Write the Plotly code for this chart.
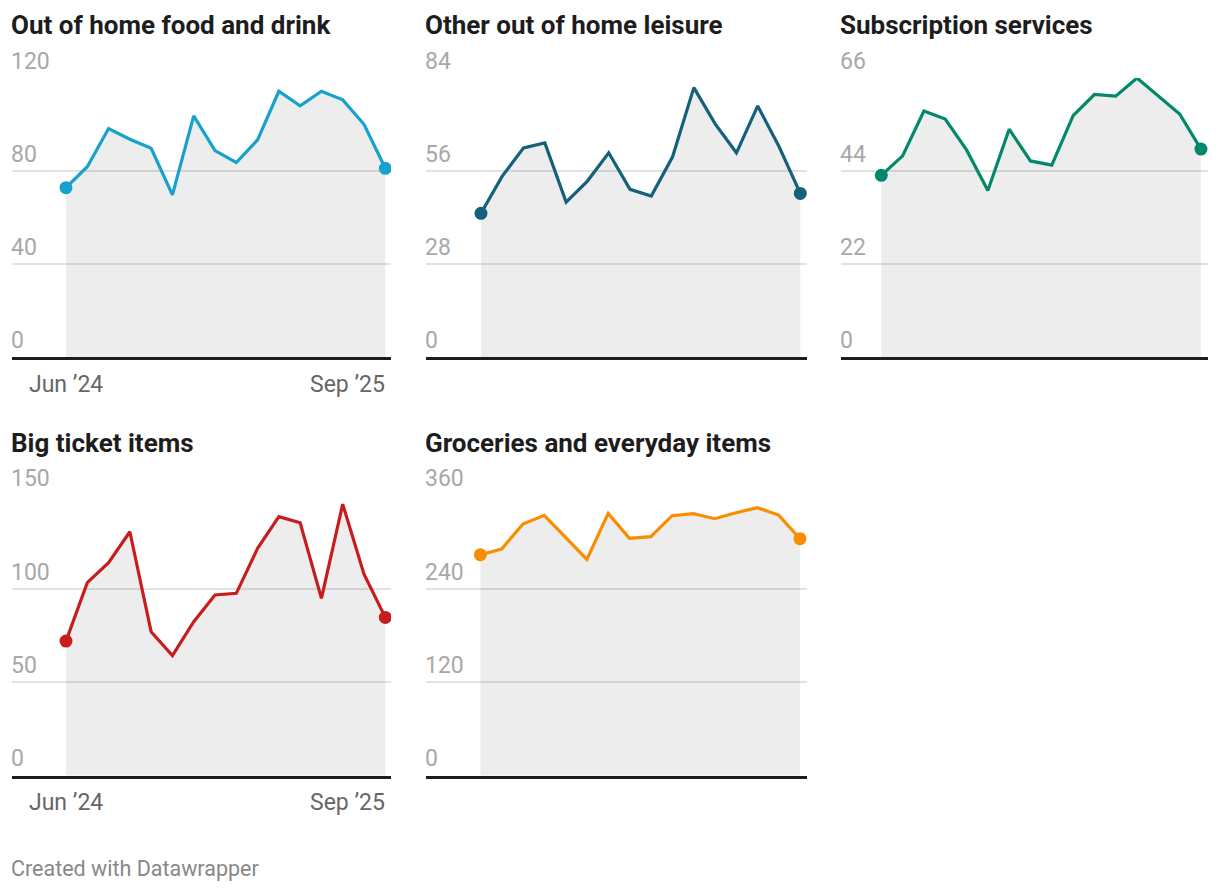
import plotly.graph_objects as go

# ---------------- data ----------------
months = ["Jun ’24", "Jul ’24", "Aug ’24", "Sep ’24", "Oct ’24", "Nov ’24", "Dec ’24",
          "Jan ’25", "Feb ’25", "Mar ’25", "Apr ’25", "May ’25", "Jun ’25", "Jul ’25",
          "Aug ’25", "Sep ’25"]

titles = ["Out of home food and drink", "Other out of home leisure", "Subscription services",
          "Big ticket items", "Groceries and everyday items"]

food_drink = [72.9, 81.9, 98.3, 93.7, 89.8, 69.8, 103.7, 88.8, 83.7, 93.4, 114.3, 108.0,
              114.3, 110.6, 100.1, 81.2]
leisure = [43.3, 54.5, 63.0, 64.5, 46.7, 53.0, 61.5, 50.5, 48.5, 60.3, 81.1, 70.2, 61.5,
           75.6, 63.4, 49.3]
subscriptions = [43.0, 47.6, 58.2, 56.3, 49.0, 39.4, 53.9, 46.4, 45.4, 57.1, 62.1, 61.7,
                 66.0, 61.7, 57.5, 49.2]
big_ticket = [72.1, 103.4, 114.1, 130.7, 77.1, 64.3, 82.5, 96.8, 97.7, 121.8, 138.8, 135.5,
              95.0, 145.5, 108.0, 84.8]
groceries = [284.1, 291.4, 323.6, 334.7, 306.4, 278.1, 337.3, 305.1, 307.3, 334.3, 336.9,
             330.4, 338.1, 344.6, 335.1, 304.7]

y_ticks = [[0, 40, 80, 120], [0, 28, 56, 84], [0, 22, 44, 66], [0, 50, 100, 150],
           [0, 120, 240, 360]]

colors = ["#18a1cd", "#15607a", "#02896b", "#c71e1d", "#fa8c00"]
series = [food_drink, leisure, subscriptions, big_ticket, groceries]

# ---------------- layout geometry ----------------
W, H = 1220, 892
# (left px, right px, top px, bottom px, x-range left, x-range right, show x labels)
panels = [
    (12, 391, 78, 357.3, -2.537, 15.268, True),
    (426, 807, 78, 357.3, -2.583, 15.315, False),
    (841, 1208, 78, 357.3, -1.891, 15.33, False),
    (12, 391, 495.7, 775.7, -2.537, 15.268, True),
    (426, 807, 495.7, 775.7, -2.55, 15.33, False),
]

FONT = "Roboto"
fig = go.Figure()
annotations = []
layout_axes = {}

xs = list(range(len(months)))

for i, (vals, col, ticks, title, geo) in enumerate(zip(series, colors, y_ticks, titles, panels)):
    lpx, rpx, tpx, bpx, xr0, xr1, showx = geo
    n = i + 1
    xa = "x" if n == 1 else f"x{n}"
    ya = "y" if n == 1 else f"y{n}"
    xkey = "xaxis" if n == 1 else f"xaxis{n}"
    ykey = "yaxis" if n == 1 else f"yaxis{n}"
    dx = [lpx / W, rpx / W]
    dy = [1 - bpx / H, 1 - tpx / H]

    fig.add_trace(go.Scatter(x=xs, y=vals, xaxis=xa, yaxis=ya, mode="lines",
                             fill="tozeroy", fillcolor="rgba(0,0,0,0.072)",
                             line=dict(width=0, color="rgba(0,0,0,0)"),
                             hoverinfo="skip", showlegend=False))
    fig.add_trace(go.Scatter(x=xs, y=vals, xaxis=xa, yaxis=ya, mode="lines",
                             line=dict(color=col, width=3.2), showlegend=False))
    fig.add_trace(go.Scatter(x=[xs[0], xs[-1]], y=[vals[0], vals[-1]], xaxis=xa, yaxis=ya,
                             mode="markers", marker=dict(color=col, size=13),
                             showlegend=False))

    layout_axes[xkey] = dict(domain=dx, range=[xr0, xr1], anchor=ya, showgrid=False,
                             zeroline=False, showticklabels=False, ticks="",
                             showline=True, linecolor="#1d1d1d", linewidth=2.5,
                             layer="above traces", fixedrange=True)
    layout_axes[ykey] = dict(domain=dy, range=[0, ticks[-1]], anchor=xa, showgrid=True,
                             gridcolor="#e2e2e2", gridwidth=1.5, tickmode="array",
                             tickvals=ticks, showticklabels=False, zeroline=False,
                             ticks="", fixedrange=True)

    # panel title
    annotations.append(dict(text=f"<b>{title}</b>", xref="paper", yref="paper",
                            x=dx[0], y=1 - (tpx - 53) / H, xanchor="left", yanchor="middle",
                            xshift=-3, showarrow=False,
                            font=dict(family=FONT, size=26, color="#1d1d1d")))
    # y tick labels sitting above gridlines
    for t in ticks:
        annotations.append(dict(text=str(t), xref="paper", yref=ya, x=dx[0], y=t,
                                xanchor="left", yanchor="middle", yshift=17, xshift=-3,
                                showarrow=False,
                                font=dict(family=FONT, size=23, color="#a8a8a8")))
    if showx:
        annotations.append(dict(text=months[0], xref=xa, yref="paper", x=xs[0],
                                y=1 - (bpx + 27) / H, xanchor="center", yanchor="middle",
                                showarrow=False,
                                font=dict(family=FONT, size=23, color="#666666")))
        annotations.append(dict(text=months[-1], xref=xa, yref="paper", x=xs[-1],
                                y=1 - (bpx + 27) / H, xanchor="right", yanchor="middle",
                                xshift=2, showarrow=False,
                                font=dict(family=FONT, size=23, color="#666666")))

annotations.append(dict(text="Created with Datawrapper", xref="paper", yref="paper",
                        x=12 / W, y=1 - 868 / H, xanchor="left", yanchor="middle",
                        xshift=-3, showarrow=False,
                        font=dict(family=FONT, size=21.5, color="#888888")))

fig.update_layout(width=W, height=H, margin=dict(l=0, r=0, t=0, b=0),
                  paper_bgcolor="white", plot_bgcolor="rgba(0,0,0,0)",
                  annotations=annotations, showlegend=False, hovermode=False,
                  font=dict(family=FONT), **layout_axes)

fig.write_html("out.html", config={"displayModeBar": False},
               post_script="document.body.style.margin='0';document.body.style.overflow='hidden';")
